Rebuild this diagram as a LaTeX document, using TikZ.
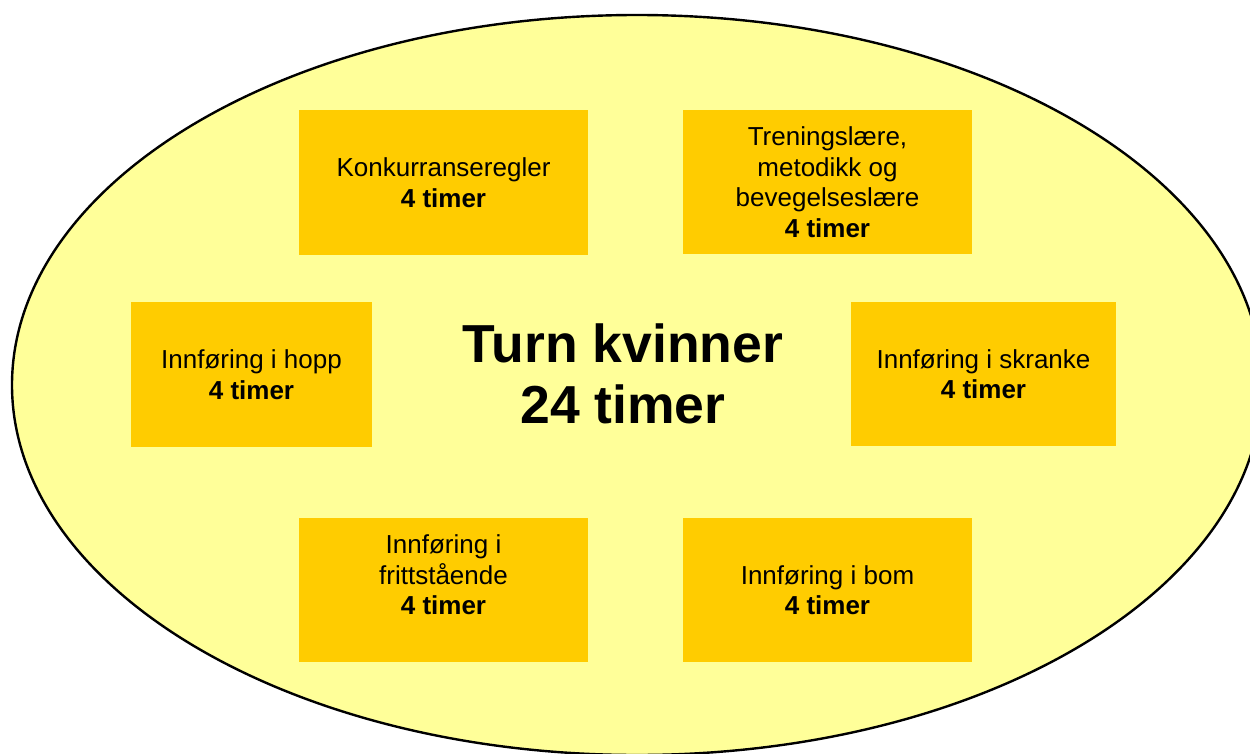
\documentclass[tikz,border=0pt]{standalone}
\usepackage{fontspec}
\usetikzlibrary{shapes.geometric}
\setmainfont{Liberation Sans}
\definecolor{paleyellow}{HTML}{FFFF99}
\definecolor{gold}{HTML}{FFCC00}
\begin{document}
\begin{tikzpicture}[x=1pt,y=-1pt,
  topic/.style={rectangle, fill=gold, inner sep=0pt, align=center,
    font=\fontsize{26}{30.5}\selectfont},
  topictext/.style={inner sep=0pt, align=center,
    font=\fontsize{26}{30.5}\selectfont},
  title/.style={align=center, font=\fontsize{53.5}{61}\selectfont\bfseries}]
\useasboundingbox (0,0) rectangle (1250,754);
\clip (0,0) rectangle (1250,754);
% course outline
\node[ellipse, draw=black, line width=2.4pt, fill=paleyellow,
  minimum width=1250pt, minimum height=740pt, inner sep=0pt] (course) at (637,385) {};
\node[title] (head) at (623,374) {Turn kvinner\\24 timer};
% topic boxes
\node[topic, minimum width=289pt, minimum height=145pt] (rules) at (443.5,182.5)
  {Konkurranseregler\\\textbf{4 timer}};
\node[topic, minimum width=289pt, minimum height=144pt] (theory) at (827.5,182)
  {Treningslære,\\metodikk og\\bevegelseslære\\\textbf{4 timer}};
\node[topic, minimum width=241pt, minimum height=145pt] (vault) at (251.5,374.5)
  {Innføring i hopp\\\textbf{4 timer}};
\node[topic, minimum width=265pt, minimum height=144pt] (bars) at (983.5,374)
  {Innføring i skranke\\\textbf{4 timer}};
\node[topic, minimum width=289pt, minimum height=144pt] (floor) at (443.5,590) {};
\node[topictext] (floortext) at ([yshift=15pt]floor.center)
  {Innføring i\\frittstående\\\textbf{4 timer}};
\node[topic, minimum width=289pt, minimum height=144pt] (beam) at (827.5,590)
  {Innføring i bom\\\textbf{4 timer}};
\end{tikzpicture}
\end{document}
